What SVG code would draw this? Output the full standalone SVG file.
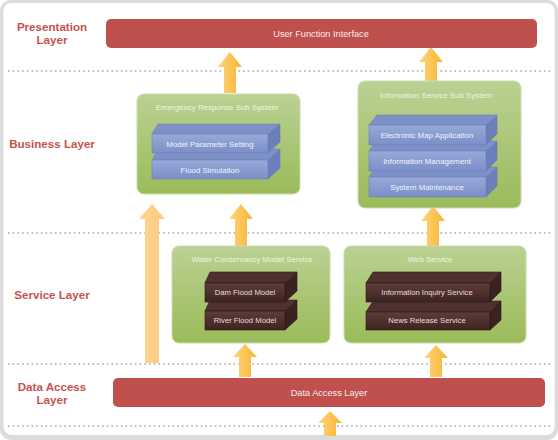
<svg xmlns="http://www.w3.org/2000/svg" width="558" height="440" viewBox="0 0 558 440">
<defs>
<linearGradient id="gGreen" x1="0" y1="0" x2="0" y2="1"><stop offset="0" stop-color="#bad193"/><stop offset="1" stop-color="#9bbb59"/></linearGradient>
<linearGradient id="gBlue" x1="0" y1="0" x2="0" y2="1"><stop offset="0" stop-color="#98a9d9"/><stop offset="1" stop-color="#7b8ec7"/></linearGradient>
<linearGradient id="gDark" x1="0" y1="0" x2="0" y2="1"><stop offset="0" stop-color="#5e3d3a"/><stop offset="1" stop-color="#3d2421"/></linearGradient>
<linearGradient id="gArrow" x1="0" y1="0" x2="1" y2="0"><stop offset="0" stop-color="#fed57e"/><stop offset="1" stop-color="#f8b42e"/></linearGradient>
<linearGradient id="gArrowL" x1="0" y1="0" x2="1" y2="0"><stop offset="0" stop-color="#fed592"/><stop offset="1" stop-color="#fcca7c"/></linearGradient>
</defs>
<style>
.layer{font-family:"Liberation Sans",Arial,sans-serif;font-weight:bold;font-size:11.6px;fill:#c6524f;text-anchor:middle}
.bar{fill:#c0504d}
.barText{font-family:"Liberation Sans",Arial,sans-serif;font-size:9.2px;fill:#fbeaea;text-anchor:middle}
.box{fill:url(#gGreen);stroke:#c9dcae;stroke-width:1}
.boxTitle{font-family:"Liberation Sans",Arial,sans-serif;font-size:7.9px;fill:#eef4e2;text-anchor:middle}
.bFront{fill:url(#gBlue);stroke:#7081bb;stroke-width:0.6}
.bTop{fill:#7e91c7;stroke:#7081bb;stroke-width:0.6}
.bSide{fill:#6b7fba;stroke:#6a7bb4;stroke-width:0.6}
.dFront{fill:url(#gDark);stroke:#2e1a18;stroke-width:0.6}
.dTop{fill:#4f322f;stroke:#2e1a18;stroke-width:0.6}
.dSide{fill:#3a2220;stroke:#2e1a18;stroke-width:0.6}
.bText{font-family:"Liberation Sans",Arial,sans-serif;font-size:7.9px;fill:#f1f3fb;text-anchor:middle}
.dText{font-family:"Liberation Sans",Arial,sans-serif;font-size:7.7px;fill:#eadcdc;text-anchor:middle}
.dots{stroke:#a8a8a8;stroke-width:1.6;stroke-dasharray:1.6 3.1;fill:none}
.arrow{fill:url(#gArrow)}
.arrowL{fill:url(#gArrowL)}
</style>

<rect x="0" y="0" width="558" height="440" rx="11" fill="#dcdcdc"/>
<rect x="3.5" y="3" width="551" height="432" rx="8" fill="#ffffff"/>

<g id="separators">
<line class="dots" x1="8" y1="71" x2="553" y2="71"/>
<line class="dots" x1="8" y1="233" x2="553" y2="233"/>
<line class="dots" x1="8" y1="364" x2="553" y2="364"/>
<line class="dots" x1="8" y1="426" x2="553" y2="426"/>
</g>

<g id="layer-labels">
<text class="layer" x="52" y="31">Presentation</text>
<text class="layer" x="52" y="44">Layer</text>
<text class="layer" x="52" y="148">Business Layer</text>
<text class="layer" x="52" y="299">Service Layer</text>
<text class="layer" x="52" y="391">Data Access</text>
<text class="layer" x="52" y="403.5">Layer</text>
</g>

<g id="connectors">
<path class="arrow" d="M230 52 L242 67 L236 67 L236 93 L224 93 L224 67 L218 67 Z"/>
<path class="arrow" d="M431 47 L443 62 L437 62 L437 81 L425 81 L425 62 L419 62 Z"/>
<path class="arrowL" d="M152 204 L165 219 L159 219 L159 363 L145 363 L145 219 L139 219 Z"/>
<path class="arrow" d="M241 204 L253 219 L247 219 L247 246 L235 246 L235 219 L229 219 Z"/>
<path class="arrow" d="M433 206 L445 221 L439 221 L439 246 L427 246 L427 221 L421 221 Z"/>
<path class="arrow" d="M245 344 L257 357 L251 357 L251 377 L239 377 L239 357 L233 357 Z"/>
<path class="arrow" d="M436 345 L448 358 L442 358 L442 377 L430 377 L430 358 L424 358 Z"/>
<path class="arrow" d="M330 411 L342 423 L336 423 L336 436 L324 436 L324 423 L318 423 Z"/>
</g>

<g id="user-function-interface">
<rect class="bar" x="106" y="19" width="431" height="29" rx="5"/>
<text class="barText" x="321" y="36.5">User Function Interface</text>
</g>

<g id="emergency-response">
<rect class="box" x="137" y="94" width="163" height="100" rx="7"/>
<text class="boxTitle" x="217" y="110">Emergency Response Sub System</text>
<g id="flood-simulation">
<path class="bSide" d="M268 160 L280 149 L280 168 L268 179 Z"/>
<path class="bTop" d="M152 160 L158 150 L280 149 L268 160 Z"/>
<rect class="bFront" x="152" y="160" width="116" height="19"/>
<text class="bText" x="210" y="172.5">Flood Simulation</text>
</g>
<g id="model-parameter-setting">
<path class="bSide" d="M268 134 L280 124 L280 142 L268 153 Z"/>
<path class="bTop" d="M152 134 L158 124 L280 124 L268 134 Z"/>
<rect class="bFront" x="152" y="134" width="116" height="19"/>
<text class="bText" x="210" y="146.5">Model Parameter Setting</text>
</g>
</g>

<g id="information-service">
<rect class="box" x="358" y="81" width="163" height="127" rx="7"/>
<text class="boxTitle" x="436" y="98">Information Service Sub System</text>
<g id="system-maintenance">
<path class="bSide" d="M486 177 L497 167 L497 186 L486 197 Z"/>
<path class="bTop" d="M369 177 L376 167 L497 167 L486 177 Z"/>
<rect class="bFront" x="369" y="177" width="117" height="20"/>
<text class="bText" x="427" y="189.5">System Maintenance</text>
</g>
<g id="information-management">
<path class="bSide" d="M486 151 L497 141 L497 160 L486 171 Z"/>
<path class="bTop" d="M369 151 L376 141 L497 141 L486 151 Z"/>
<rect class="bFront" x="369" y="151" width="117" height="20"/>
<text class="bText" x="427" y="163.5">Information Management</text>
</g>
<g id="electronic-map">
<path class="bSide" d="M486 125 L497 115 L497 134 L486 145 Z"/>
<path class="bTop" d="M369 125 L377 115 L497 115 L486 125 Z"/>
<rect class="bFront" x="369" y="125" width="117" height="20"/>
<text class="bText" x="427" y="137.5">Electronic Map Application</text>
</g>
</g>

<g id="water-conservancy">
<rect class="box" x="172" y="246" width="158" height="97" rx="7"/>
<text class="boxTitle" x="252" y="262">Water Conservancy Model Service</text>
<g id="river-flood-model">
<path class="dSide" d="M285 311 L297 300 L297 319 L285 330 Z"/>
<path class="dTop" d="M205 311 L210 300 L297 300 L285 311 Z"/>
<rect class="dFront" x="205" y="311" width="80" height="19"/>
<text class="dText" x="245" y="323">River Flood Model</text>
</g>
<g id="dam-flood-model">
<path class="dSide" d="M285 283 L297 272 L297 291 L285 302 Z"/>
<path class="dTop" d="M205 283 L210 272 L297 272 L285 283 Z"/>
<rect class="dFront" x="205" y="283" width="80" height="19"/>
<text class="dText" x="245" y="295">Dam Flood Model</text>
</g>
</g>

<g id="web-service">
<rect class="box" x="344" y="246" width="182" height="97" rx="7"/>
<text class="boxTitle" x="430" y="262">Web Service</text>
<g id="news-release">
<path class="dSide" d="M490 312 L501 301 L501 320 L490 330 Z"/>
<path class="dTop" d="M366 312 L373 301 L501 301 L490 312 Z"/>
<rect class="dFront" x="366" y="312" width="124" height="18"/>
<text class="dText" x="427" y="323">News Release Service</text>
</g>
<g id="information-inquiry">
<path class="dSide" d="M490 283 L501 272 L501 291 L490 302 Z"/>
<path class="dTop" d="M366 283 L373 272 L501 272 L490 283 Z"/>
<rect class="dFront" x="366" y="283" width="124" height="19"/>
<text class="dText" x="427" y="295">Information Inquiry Service</text>
</g>
</g>

<g id="data-access-layer">
<rect class="bar" x="113" y="378" width="432" height="29" rx="5"/>
<text class="barText" x="329" y="395.5">Data Access Layer</text>
</g>
</svg>
